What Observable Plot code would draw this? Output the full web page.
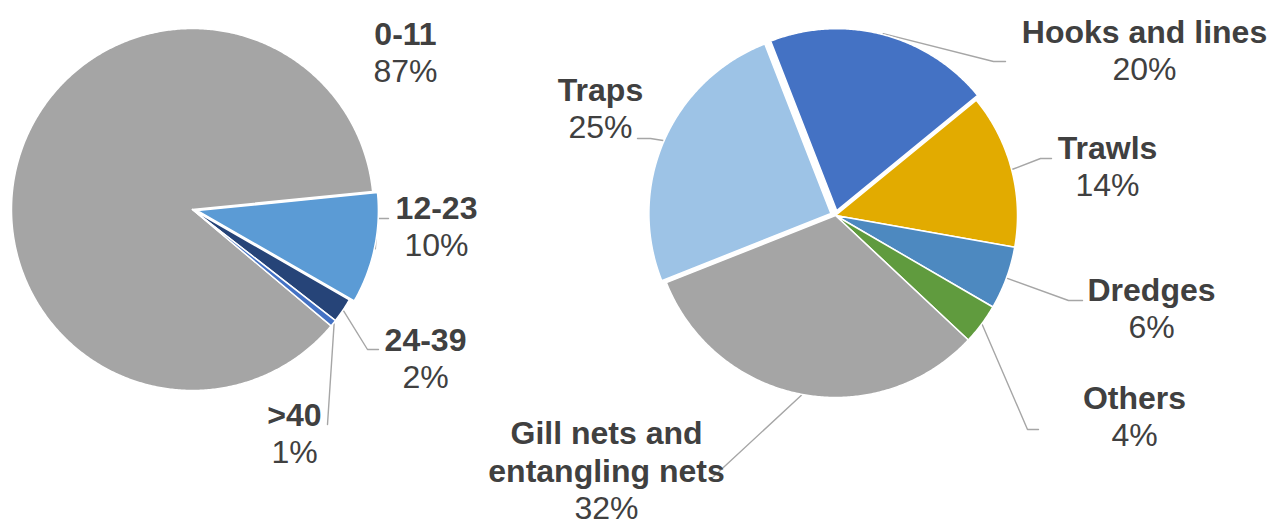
<!DOCTYPE html>
<html>
<head>
<meta charset="utf-8">
<script src="https://cdn.jsdelivr.net/npm/d3@7"></script>
<script src="https://cdn.jsdelivr.net/npm/@observablehq/plot@0.6"></script>
<style>
  html, body { margin: 0; padding: 0; background: #fff; }
  #chart svg { display: block; }
</style>
</head>
<body>
<div id="chart"></div>
<script>
// ---- data ----
const ageCats = ["0-11", "12-23", "24-39", ">40"];
const ageShares = [87.3, 9.9, 2.2, 0.6];
const ageLabels = ["87%", "10%", "2%", "1%"];

const gearCats = ["Hooks and lines", "Trawls", "Dredges", "Others", "Gill nets and\nentangling nets", "Traps"];
const gearShares = [20, 13.7, 5.6, 3.6, 32, 25.1];
const gearLabels = ["20%", "14%", "6%", "4%", "32%", "25%"];

// ---- styles / layout ----
const ageColors = ["#A5A5A5", "#5B9BD5", "#264478", "#4472C4"];
const gearColors = ["#4472C4", "#E2AB00", "#4D89C0", "#609B3E", "#A5A5A5", "#9DC3E6"];

const W = 1274, H = 526;
const pies = [
  {
    cats: ageCats, values: ageShares, pct: ageLabels, colors: ageColors,
    cx: 192, cy: 209, r: 181, start: 130,
    explode: [0, 5, 0, 0],
    labels: [
      {x: 405, y: 44, leader: null},
      {x: 436, y: 218, leader: [[377, 218], [388, 218]]},
      {x: 425, y: 350, leader: [[367, 349], [378, 349]]},
      {x: 294, y: 425, leader: [[327, 424]]}
    ]
  },
  {
    cats: gearCats, values: gearShares, pct: gearLabels, colors: gearColors,
    cx: 835, cy: 215, r: 182, start: -21.3,
    explode: [5, 0, 0, 0, 0, 5],
    labels: [
      {x: 1144, y: 42, leader: [[993, 61], [1005, 61]]},
      {x: 1107, y: 158, leader: [[1040, 158], [1051, 158]]},
      {x: 1151, y: 300, leader: [[1068, 300], [1082, 300]]},
      {x: 1134, y: 408, leader: [[1027, 429], [1038, 429]]},
      {x: 606, y: 481, leader: [[711, 478]]},
      {x: 600, y: 100, leader: [[650, 138], [637, 138]]}
    ]
  }
];

const slicePts = [];
const leaderPts = [];
const nameTexts = [];
const pctTexts = [];
const FS = 32, LH = 1.18;

pies.forEach((p, pi) => {
  const arcs = d3.pie().sort(null).value(d => d)
    .startAngle(p.start * Math.PI / 180)
    .endAngle(p.start * Math.PI / 180 + 2 * Math.PI)(p.values);
  arcs.forEach((a, i) => {
    const key = pi + "-" + i;
    const mid = (a.startAngle + a.endAngle) / 2;
    const e = p.explode[i];
    const ox = p.cx + e * Math.sin(mid), oy = p.cy - e * Math.cos(mid);
    slicePts.push({key, x: ox, y: oy, c: p.colors[i]});
    const n = Math.max(2, Math.ceil((a.endAngle - a.startAngle) / (Math.PI / 360)));
    for (let k = 0; k <= n; k++) {
      const t = a.startAngle + (a.endAngle - a.startAngle) * k / n;
      slicePts.push({key, x: ox + p.r * Math.sin(t), y: oy - p.r * Math.cos(t), c: p.colors[i]});
    }
    const L = p.labels[i];
    if (L.leader) {
      const rr = p.r + e + 1;
      leaderPts.push({key, x: p.cx + rr * Math.sin(mid), y: p.cy - rr * Math.cos(mid)});
      L.leader.forEach(([x, y]) => leaderPts.push({key, x, y}));
    }
    nameTexts.push({x: L.x, y: L.y, t: p.cats[i]});
    pctTexts.push({x: L.x, y: L.y + FS * LH + (L.pdy || 0), t: p.pct[i]});
  });
});

const font = "'Liberation Sans', Arial, sans-serif";
const chart = Plot.plot({
  width: W, height: H,
  margin: 0,
  style: {fontFamily: font, background: "#fff"},
  x: {domain: [0, W], range: [0, W], axis: null},
  y: {domain: [0, H], range: [0, H], axis: null},
  color: {type: "identity"},
  marks: [
    Plot.line(leaderPts, {x: "x", y: "y", z: "key", stroke: "#A6A6A6", strokeWidth: 1.4}),
    Plot.line(slicePts, {x: "x", y: "y", z: "key", fill: "c", stroke: "white", strokeWidth: 1.5,
      strokeLinejoin: "round", curve: "linear-closed"}),
    Plot.text(nameTexts, {x: "x", y: "y", text: "t", fontSize: FS, fontWeight: "bold",
      fill: "#404040", textAnchor: "middle", lineAnchor: "bottom", lineHeight: LH}),
    Plot.text(pctTexts, {x: "x", y: "y", text: "t", fontSize: FS,
      fill: "#404040", textAnchor: "middle", lineAnchor: "bottom"})
  ]
});
document.getElementById("chart").appendChild(chart);
</script>
</body>
</html>
